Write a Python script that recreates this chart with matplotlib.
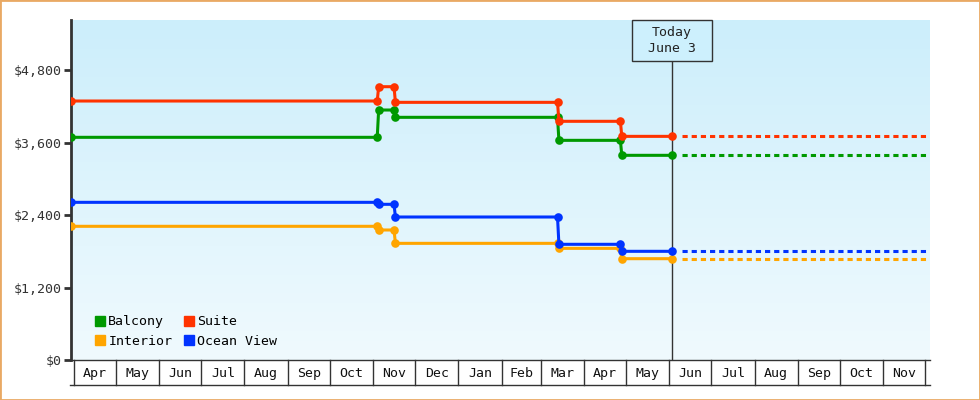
import matplotlib
matplotlib.use('Agg')
import matplotlib.pyplot as plt
import matplotlib.dates as mdates
import matplotlib.transforms as mtransforms
from matplotlib.patches import Rectangle
from matplotlib.lines import Line2D
from matplotlib.colors import LinearSegmentedColormap
import numpy as np
import pandas as pd

plt.rcParams['font.family'] = ['DejaVu Sans Mono', 'DejaVu Sans']

# ---------------- data ----------------
series_names = ['Balcony', 'Suite', 'Interior', 'Ocean View']
series_colors = ['#009900', '#FF3300', '#FFA500', '#0033FF']

point_dates = ['2022-03-30', '2022-11-04', '2022-11-05', '2022-11-16', '2022-11-17',
               '2023-03-13', '2023-03-14', '2023-04-27', '2023-04-28', '2023-06-03']
balcony = [3686, 3686, 4138, 4138, 4017, 4017, 3636, 3636, 3388, 3388]
suite = [4287, 4287, 4524, 4524, 4265, 4265, 3951, 3951, 3702, 3702]
interior = [2213, 2213, 2152, 2152, 1931, 1931, 1848, 1848, 1677, 1677]
ocean_view = [2610, 2610, 2577, 2577, 2367, 2367, 1915, 1915, 1799, 1799]

today = '2023-06-03'
today_label = 'Today\nJune 3'
projection_start = '2023-06-10'
projection_end = '2023-12-04'

month_labels = ['Apr', 'May', 'Jun', 'Jul', 'Aug', 'Sep', 'Oct', 'Nov', 'Dec', 'Jan',
                'Feb', 'Mar', 'Apr', 'May', 'Jun', 'Jul', 'Aug', 'Sep', 'Oct', 'Nov']
month_first = '2022-04-01'

y_ticks = [0, 1200, 2400, 3600, 4800]
y_max = 5628

# ---------------- figure ----------------
W, H = 980, 400
fig = plt.figure(figsize=(W / 100, H / 100), dpi=100)
ax = fig.add_axes([71 / W, 40 / H, 859 / W, 340 / H])

# gradient background
cmap = LinearSegmentedColormap.from_list('bg', ['#CCEEFB', '#F0FAFE'])
ax.imshow(np.linspace(0, 1, 256).reshape(-1, 1), cmap=cmap, extent=[0, 1, 0, 1],
          transform=ax.transAxes, aspect='auto', zorder=0, interpolation='bilinear')

dnum = lambda s: mdates.date2num(pd.Timestamp(s))
x_left = dnum(month_first) - 2.15
x_right = x_left + 614.7

xs = [dnum(d) for d in point_dates]
series_vals = [balcony, suite, interior, ocean_view]
for name, col, vals in zip(series_names, series_colors, series_vals):
    ax.plot(xs, vals, color=col, lw=2.2, marker='o', markersize=6.2,
            markeredgewidth=0, zorder=4, solid_joinstyle='miter')
    ax.plot([dnum(projection_start), dnum(projection_end)], [vals[-1], vals[-1]],
            color=col, lw=2.2, linestyle=(0, (1.7, 1.3)), zorder=3, clip_on=False)

ax.set_xlim(x_left, x_right)
ax.set_ylim(0, y_max)

# spines & ticks
for s in ['top', 'right']:
    ax.spines[s].set_visible(False)
ax.spines['left'].set_linewidth(2)
ax.spines['left'].set_color('#333333')
ax.spines['bottom'].set_linewidth(1)
ax.spines['bottom'].set_color('#333333')
ax.set_yticks(y_ticks)
ax.set_yticklabels(['${:,}'.format(v) for v in y_ticks])
ax.tick_params(axis='y', length=5, width=2, color='#333333', labelsize=9.5,
               labelcolor='#333333', pad=2)
ax.set_xticks([])

# month boxes
trans = mtransforms.blended_transform_factory(ax.transData, ax.transAxes)
box_h = 25 / 340
starts = pd.date_range(month_first, periods=len(month_labels) + 1, freq='MS')
snum = [mdates.date2num(s) for s in starts]
for x in snum:
    ax.plot([x, x], [-box_h, 0], transform=trans, color='#333333', lw=1,
            clip_on=False, zorder=5)
ax.plot([-1 / 859, 1], [-box_h, -box_h], transform=ax.transAxes, color='#333333',
        lw=1, clip_on=False)
for i, lab in enumerate(month_labels):
    ax.text((snum[i] + snum[i + 1]) / 2, -box_h / 2 - 0.003, lab, transform=trans,
            ha='center', va='center', fontsize=9.5, color='#111111')

# today marker
t = dnum(today)
box_bottom = (360 - 61) / 340
ax.plot([t, t], [0, box_bottom], transform=trans, color='#333333', lw=1, zorder=2)
box_w_days = 80 / 1.3974
ax.add_patch(Rectangle((t - box_w_days / 2, box_bottom), box_w_days, 1 - box_bottom,
                       transform=trans, facecolor='#CDF0FD', edgecolor='#333333',
                       lw=1, clip_on=False, zorder=6))
ax.text(t, (1 + box_bottom) / 2, today_label, transform=trans, ha='center',
        va='center', fontsize=9.5, color='#222222', linespacing=1.35, zorder=7)

# legend
order = [0, 2, 1, 3]
handles = [Line2D([], [], marker='s', linestyle='none', color=series_colors[i],
                  markersize=7.5) for i in order]
labels = [series_names[i] for i in order]
ax.legend(handles, labels, ncol=2, loc='lower left', bbox_to_anchor=(0.015, 0.012),
          frameon=False, fontsize=9.5, handletextpad=0.05, columnspacing=0.65,
          labelspacing=0.5, handlelength=1.2, borderaxespad=0.2)

# outer border
fig.patches.append(Rectangle((0, 0), 1, 1, transform=fig.transFigure, fill=False,
                             edgecolor='#E9A964', lw=2))

fig.savefig('out.png', dpi=100)
